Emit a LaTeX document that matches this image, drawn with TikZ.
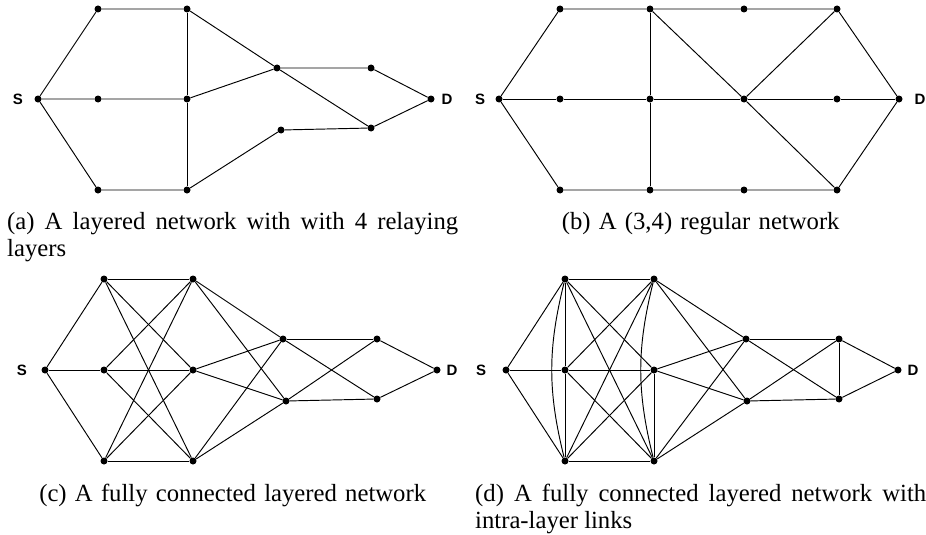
\documentclass[tikz,border=0pt]{standalone}
\usepackage{fontspec}
\setmainfont{Liberation Serif}
\newfontfamily\sdfont{Liberation Sans}
\tikzset{
  relay/.style={circle, fill=black, inner sep=0pt, minimum size=7pt},
  sdlabel/.style={font=\sdfont\bfseries\fontsize{15}{15}\selectfont, inner sep=0pt},
  subcap/.style={font=\fontsize{24.7}{27}\selectfont, inner sep=0pt, text width=451pt},
  link/.style={line width=0.95pt}
}

\begin{document}
\begin{tikzpicture}[x=1pt, y=-1pt]
        \useasboundingbox (0,0) rectangle (926,535);

        % (a) layered network with 4 relaying layers
        \node[relay] (aS) at (38,99) {};
        \node[relay] (a1t) at (98,9) {};
        \node[relay] (a1m) at (98,99) {};
        \node[relay] (a1b) at (98,190) {};
        \node[relay] (a2t) at (187,9) {};
        \node[relay] (a2m) at (187,99) {};
        \node[relay] (a2b) at (187,190) {};
        \node[relay] (a3u) at (277,68) {};
        \node[relay] (a3l) at (281,130) {};
        \node[relay] (a4u) at (371,68) {};
        \node[relay] (a4l) at (371,128) {};
        \node[relay] (aD) at (431,99) {};
        \node[sdlabel] (aSl) at (18,99) {S};
        \node[sdlabel] (aDl) at (447,99) {D};
        \draw[link] (aS) -- (a1t) -- (a2t) -- (a3u) -- (a4u) -- (aD);
        \draw[link] (aS) -- (a1m) -- (a2m) -- (a3u) -- (a4l) -- (aD);
        \draw[link] (aS) -- (a1b) -- (a2b) -- (a3l) -- (a4l);
        \draw[link] (a2t) -- (a2m) -- (a2b);

        % (b) regular network
        \node[relay] (bS) at (499,99) {};
        \node[relay] (b1t) at (560,9) {};
        \node[relay] (b1m) at (560,99) {};
        \node[relay] (b1b) at (560,190) {};
        \node[relay] (b2t) at (650,9) {};
        \node[relay] (b2m) at (650,99) {};
        \node[relay] (b2b) at (650,190) {};
        \node[relay] (b3t) at (744,9) {};
        \node[relay] (b3m) at (744,99) {};
        \node[relay] (b3b) at (744,190) {};
        \node[relay] (b4t) at (837,9) {};
        \node[relay] (b4m) at (837,99) {};
        \node[relay] (b4b) at (837,190) {};
        \node[relay] (bD) at (899,99) {};
        \node[sdlabel] (bSl) at (480,99) {S};
        \node[sdlabel] (bDl) at (920,99) {D};
        \draw[link] (bS) -- (b1t) -- (b2t) -- (b3t) -- (b4t) -- (bD);
        \draw[link] (bS) -- (b1m) -- (b2m) -- (b3m) -- (b4m) -- (bD);
        \draw[link] (bS) -- (b1b) -- (b2b) -- (b3b) -- (b4b) -- (bD);
        \draw[link] (b2t) -- (b2m) -- (b2b);
        \draw[link] (b2t) -- (b3m) -- (b4b);
        \draw[link] (b3m) -- (b4t);

        % (c) fully connected layered network
        \node[relay] (cS) at (45,370) {};
        \node[relay] (c1t) at (104,279) {};
        \node[relay] (c1m) at (104,370) {};
        \node[relay] (c1b) at (104,461) {};
        \node[relay] (c2t) at (193,279) {};
        \node[relay] (c2m) at (193,370) {};
        \node[relay] (c2b) at (193,461) {};
        \node[relay] (c3u) at (283,339) {};
        \node[relay] (c3l) at (286,401) {};
        \node[relay] (c4u) at (377,339) {};
        \node[relay] (c4l) at (377,399) {};
        \node[relay] (cD) at (437,370) {};
        \node[sdlabel] (cSl) at (22,370) {S};
        \node[sdlabel] (cDl) at (452,370) {D};

        % (d) fully connected with intra-layer links
        \node[relay] (dS) at (506,370) {};
        \node[relay] (d1t) at (565,279) {};
        \node[relay] (d1m) at (565,370) {};
        \node[relay] (d1b) at (565,461) {};
        \node[relay] (d2t) at (654,279) {};
        \node[relay] (d2m) at (654,370) {};
        \node[relay] (d2b) at (654,461) {};
        \node[relay] (d3u) at (746,339) {};
        \node[relay] (d3l) at (747,401) {};
        \node[relay] (d4u) at (839,339) {};
        \node[relay] (d4l) at (839,399) {};
        \node[relay] (dD) at (898,370) {};
        \node[sdlabel] (dSl) at (481,370) {S};
        \node[sdlabel] (dDl) at (913,370) {D};

        % links shared by (c) and (d)
        \foreach \p in {c,d} {
          \foreach \i in {t,m,b} {
            \draw[link] (\p S) -- (\p1\i);
            \draw[link] (\p2\i) -- (\p3u);
            \draw[link] (\p2\i) -- (\p3l);
            \foreach \j in {t,m,b}
              \draw[link] (\p1\i) -- (\p2\j);
          }
          \foreach \i in {u,l} {
            \draw[link] (\p3\i) -- (\p4u);
            \draw[link] (\p3\i) -- (\p4l);
            \draw[link] (\p4\i) -- (\p D);
          }
        }

        % intra-layer links of (d)
        \draw[link] (d1t) -- (d1m) -- (d1b);
        \draw[link] (d1t) to[bend right=14] (d1b);
        \draw[link] (d2m) -- (d2b);
        \draw[link] (d2t) to[bend right=14] (d2b);
        \draw[link] (d4u) -- (d4l);

        % Subcaptions
        \node[subcap, anchor=base west, align=justify] (capa) at (7,229) {(a) A layered network with with 4 relaying layers};
        \node[subcap, anchor=base west, align=center] (capb) at (475,229) {(b) A (3,4) regular network};
        \node[subcap, anchor=base west, align=center] (capc) at (7,501) {(c) A fully connected layered network};
        \node[subcap, anchor=base west, align=justify] (capd) at (475,501) {(d) A fully connected layered network with intra-layer links};
      \end{tikzpicture}
\end{document}
